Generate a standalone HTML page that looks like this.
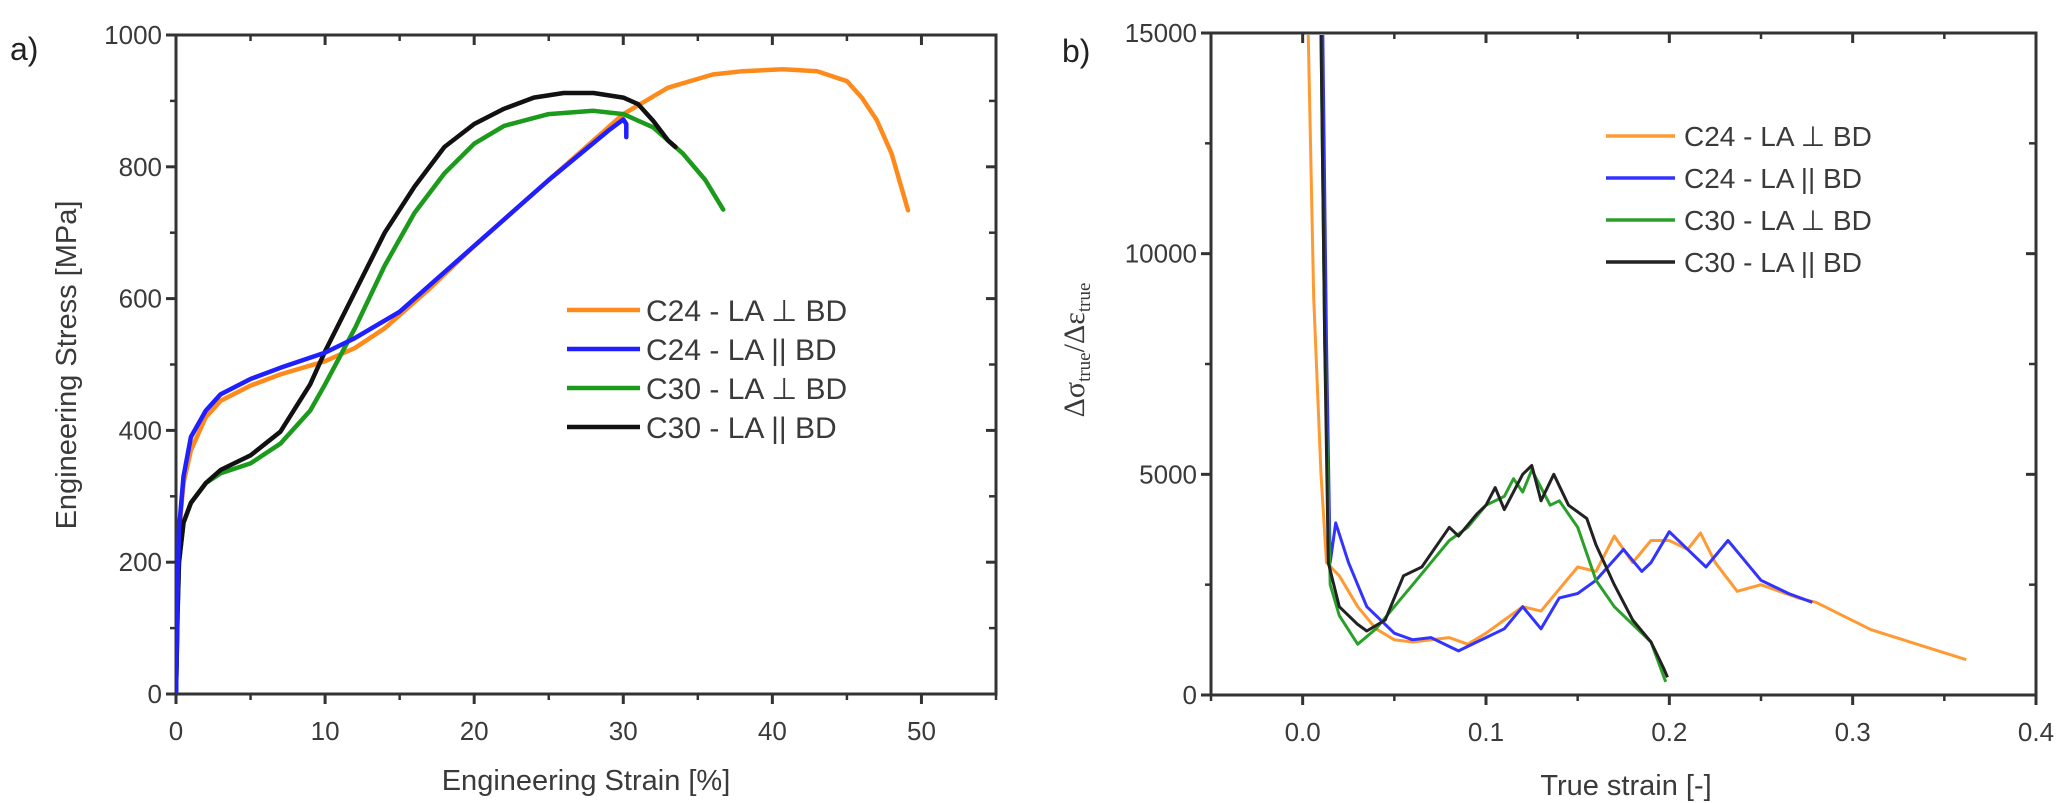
<!DOCTYPE html>
<html><head><meta charset="utf-8"><style>
html,body{margin:0;padding:0;background:#fff;}
svg{display:block;font-family:"Liberation Sans",Arial,sans-serif;}
</style></head><body>
<svg id="chart" width="2056" height="803" viewBox="0 0 2056 803" xmlns="http://www.w3.org/2000/svg">
<defs>
<clipPath id="clipA"><rect x="176" y="35" width="820" height="659"/></clipPath>
<clipPath id="clipB"><rect x="1211" y="35" width="825" height="660"/></clipPath>
</defs>
<g id="panelA"></g>
<g id="panelB"></g>
</svg>
<script>
// ---- Panel a data ----
const aSeriesNames = ["C24 - LA \u22A5  BD","C24 - LA || BD","C30 - LA \u22A5  BD","C30 - LA || BD"];
const aColors = ["#ff8a1c","#1f1fff","#1c9a1c","#111111"];
const aOrangeX = [0,0.1,0.3,0.5,1,2,3,5,7,10,12,14,17,20,25,30,33,36,38,40.7,43,45,46,47,48,49.1];
const aOrangeY = [0,150,270,320,370,420,445,468,485,505,525,555,615,680,780,880,920,940,945,948,945,930,905,871,820,734];
const aBlueX = [0,0.1,0.2,0.5,1,2,3,5,7,10,12,15,20,25,29,30,30.2,30.2];
const aBlueY = [0,150,250,330,390,430,455,478,495,518,540,580,680,780,855,872,865,845];
const aGreenX = [0,0.1,0.2,0.5,1,2,3,5,7,9,10,12,14,16,18,20,22,25,28,30,32,34,35.5,36.7];
const aGreenY = [0,120,200,260,290,320,335,350,380,430,470,555,650,730,790,835,862,880,885,880,860,820,780,735];
const aBlackX = [0,0.1,0.2,0.5,1,2,3,5,7,9,10,12,14,16,18,20,22,24,26,28,30,31,32,33,33.5];
const aBlackY = [0,120,200,260,290,320,340,362,398,470,520,610,700,770,830,865,888,905,912,912,905,895,870,840,830];
const aXTicks = [0,10,20,30,40,50];
const aYTicks = [0,200,400,600,800,1000];

// ---- Panel b data ----
const bNames = ["C24 - LA \u22A5 BD","C24 - LA || BD","C30 - LA \u22A5 BD","C30 - LA || BD"];
const bColors = ["#ff9a33","#3333ff","#2aa02a","#222222"];
const bOrangeX = [0.003,0.006,0.01,0.013,0.02,0.03,0.04,0.05,0.06,0.07,0.08,0.09,0.1,0.11,0.12,0.13,0.14,0.15,0.16,0.17,0.18,0.19,0.2,0.21,0.217,0.225,0.237,0.25,0.27,0.28,0.31,0.362];
const bOrangeY = [15000,9000,5000,3000,2700,2000,1500,1250,1200,1250,1300,1150,1400,1700,2000,1900,2400,2900,2800,3600,3000,3500,3500,3300,3670,3000,2350,2500,2200,2100,1480,800];
const bBlueX = [0.011,0.013,0.015,0.018,0.025,0.035,0.05,0.06,0.07,0.08,0.085,0.095,0.1,0.11,0.12,0.13,0.14,0.15,0.16,0.175,0.185,0.19,0.2,0.21,0.22,0.232,0.24,0.25,0.265,0.278];
const bBlueY = [15000,8000,3000,3900,3000,2000,1400,1250,1300,1100,1000,1200,1300,1500,2000,1500,2200,2300,2600,3300,2800,3000,3700,3300,2900,3500,3100,2600,2300,2100];
const bGreenX = [0.01,0.012,0.015,0.02,0.03,0.04,0.05,0.06,0.07,0.08,0.09,0.1,0.11,0.115,0.12,0.125,0.13,0.135,0.14,0.15,0.16,0.17,0.18,0.19,0.198];
const bGreenY = [15000,8000,2500,1800,1150,1500,2000,2500,3000,3500,3800,4300,4500,4900,4600,5100,4700,4300,4400,3800,2600,2000,1600,1200,300];
const bBlackX = [0.01,0.012,0.014,0.02,0.03,0.035,0.045,0.055,0.065,0.08,0.085,0.095,0.1,0.105,0.11,0.12,0.125,0.13,0.137,0.145,0.155,0.16,0.17,0.18,0.19,0.197,0.199];
const bBlackY = [15000,8000,3000,2000,1600,1450,1700,2700,2900,3800,3600,4100,4300,4700,4200,5000,5200,4400,5000,4300,4000,3400,2500,1700,1200,600,400];
const bXTicks = [0.0,0.1,0.2,0.3,0.4];
const bXLabels = ["0.0","0.1","0.2","0.3","0.4"];
const bYTicks = [0,5000,10000,15000];

const NS="http://www.w3.org/2000/svg";
function mk(tag,parent,attrs,text){const e=document.createElementNS(NS,tag);for(const k in attrs)e.setAttribute(k,attrs[k]);if(text!==undefined)e.textContent=text;parent.appendChild(e);return e;}

const axA={x0:176,x1:996,y0:694,y1:35,xmin:0,xmax:55,ymin:0,ymax:1000};
const axB={x0:1211,x1:2036,y0:695,y1:33,xmin:-0.05,xmax:0.4,ymin:0,ymax:15000};
function sx(ax,v){return ax.x0+(v-ax.xmin)/(ax.xmax-ax.xmin)*(ax.x1-ax.x0);}
function sy(ax,v){return ax.y0-(v-ax.ymin)/(ax.ymax-ax.ymin)*(ax.y0-ax.y1);}

function drawFrame(g,ax,xt,xl,yt,xMinor,yMinor,fs){
  const f=mk('rect',g,{x:ax.x0,y:ax.y1,width:ax.x1-ax.x0,height:ax.y0-ax.y1,fill:'none',stroke:'#333','stroke-width':3});
  
  xt.forEach((v,i)=>{const x=sx(ax,v);
    const t=mk('line',g,{x1:x,x2:x,y1:ax.y0,y2:ax.y0+10,stroke:'#333','stroke-width':3});
    
    mk('line',g,{x1:x,x2:x,y1:ax.y1,y2:ax.y1+10,stroke:'#333','stroke-width':3});
    const l=mk('text',g,{x:x,y:ax.y0+46,'text-anchor':'middle','font-size':fs,fill:'#3a3a3a'},xl[i]);
    });
  xMinor.forEach(v=>{const x=sx(ax,v);mk('line',g,{x1:x,x2:x,y1:ax.y0,y2:ax.y0+6,stroke:'#333','stroke-width':2.5});mk('line',g,{x1:x,x2:x,y1:ax.y1,y2:ax.y1+6,stroke:'#333','stroke-width':2.5});});
  yt.forEach(v=>{const y=sy(ax,v);
    const t=mk('line',g,{x1:ax.x0-10,x2:ax.x0,y1:y,y2:y,stroke:'#333','stroke-width':3});
    
    mk('line',g,{x1:ax.x1-10,x2:ax.x1,y1:y,y2:y,stroke:'#333','stroke-width':3});
    const l=mk('text',g,{x:ax.x0-14,y:y+9,'text-anchor':'end','font-size':fs,fill:'#3a3a3a'},String(v));
    });
  yMinor.forEach(v=>{const y=sy(ax,v);mk('line',g,{x1:ax.x0-6,x2:ax.x0,y1:y,y2:y,stroke:'#333','stroke-width':2.5});mk('line',g,{x1:ax.x1-7,x2:ax.x1,y1:y,y2:y,stroke:'#333','stroke-width':2.5});});
}
function pathD(ax,xs,ys){return xs.map((x,i)=>(i?'L':'M')+sx(ax,x).toFixed(1)+' '+sy(ax,ys[i]).toFixed(1)).join(' ');}

// ---- Panel a ----
const gA=document.getElementById('panelA');
drawFrame(gA,axA,aXTicks,aXTicks.map(String),aYTicks,[5,15,25,35,45,55],[100,300,500,700,900],26);
const aX=[aOrangeX,aBlueX,aGreenX,aBlackX], aY=[aOrangeY,aBlueY,aGreenY,aBlackY];
const aSlug=['c24-perp','c24-par','c30-perp','c30-par'];
const gAL=mk('g',gA,{'clip-path':'url(#clipA)'});
[0,2,3,1].forEach(i=>{
  const p=mk('path',gAL,{d:pathD(axA,aX[i],aY[i]),fill:'none',stroke:aColors[i],'stroke-width':4.5,'stroke-linejoin':'round','stroke-linecap':'round'});
  
  
});
aSeriesNames.forEach((n,i)=>{const y=310+i*39;
  const g=mk('g',gA,{});
  
  
  mk('line',g,{x1:567,x2:640,y1:y,y2:y,stroke:aColors[i],'stroke-width':4.5});
  mk('text',g,{x:646,y:y+11,'font-size':30,fill:'#3a3a3a','xml:space':'preserve'},n);});
let t=mk('text',gA,{x:10,y:60,'font-size':32,fill:'#222'},'a)');

t=mk('text',gA,{x:586,y:790,'text-anchor':'middle','font-size':29,fill:'#3a3a3a'},'Engineering Strain [%]');

t=mk('text',gA,{x:0,y:0,'text-anchor':'middle','font-size':29,fill:'#3a3a3a',transform:'translate(76,365) rotate(-90)'},'Engineering Stress [MPa]');


// ---- Panel b ----
const gB=document.getElementById('panelB');
drawFrame(gB,axB,bXTicks,bXLabels,bYTicks,[-0.05,0.05,0.15,0.25,0.35],[2500,7500,12500],26);
const bX=[bOrangeX,bBlueX,bGreenX,bBlackX], bY=[bOrangeY,bBlueY,bGreenY,bBlackY];
const gBL=mk('g',gB,{'clip-path':'url(#clipB)'});
[0,1,2,3].forEach(i=>{
  const p=mk('path',gBL,{d:pathD(axB,bX[i],bY[i]),fill:'none',stroke:bColors[i],'stroke-width':3,'stroke-linejoin':'round'});
  
  
});
bNames.forEach((n,i)=>{const y=136+i*42;
  const g=mk('g',gB,{});
  
  
  mk('line',g,{x1:1606,x2:1675,y1:y,y2:y,stroke:bColors[i],'stroke-width':3.5});
  mk('text',g,{x:1684,y:y+10,'font-size':28,fill:'#3a3a3a'},n);});
t=mk('text',gB,{x:1062,y:62,'font-size':32,fill:'#222'},'b)');

t=mk('text',gB,{x:1626,y:795,'text-anchor':'middle','font-size':29,fill:'#3a3a3a'},'True strain [-]');

t=mk('text',gB,{x:0,y:0,'text-anchor':'middle','font-size':30,fill:'#3a3a3a','font-family':'Liberation Serif, serif',transform:'translate(1084,350) rotate(-90)'});

mk('tspan',t,{},'\u0394\u03C3');mk('tspan',t,{'font-size':19,dy:6},'true');mk('tspan',t,{dy:-6},'/\u0394\u03B5');mk('tspan',t,{'font-size':19,dy:6},'true');
</script>
</body></html>
